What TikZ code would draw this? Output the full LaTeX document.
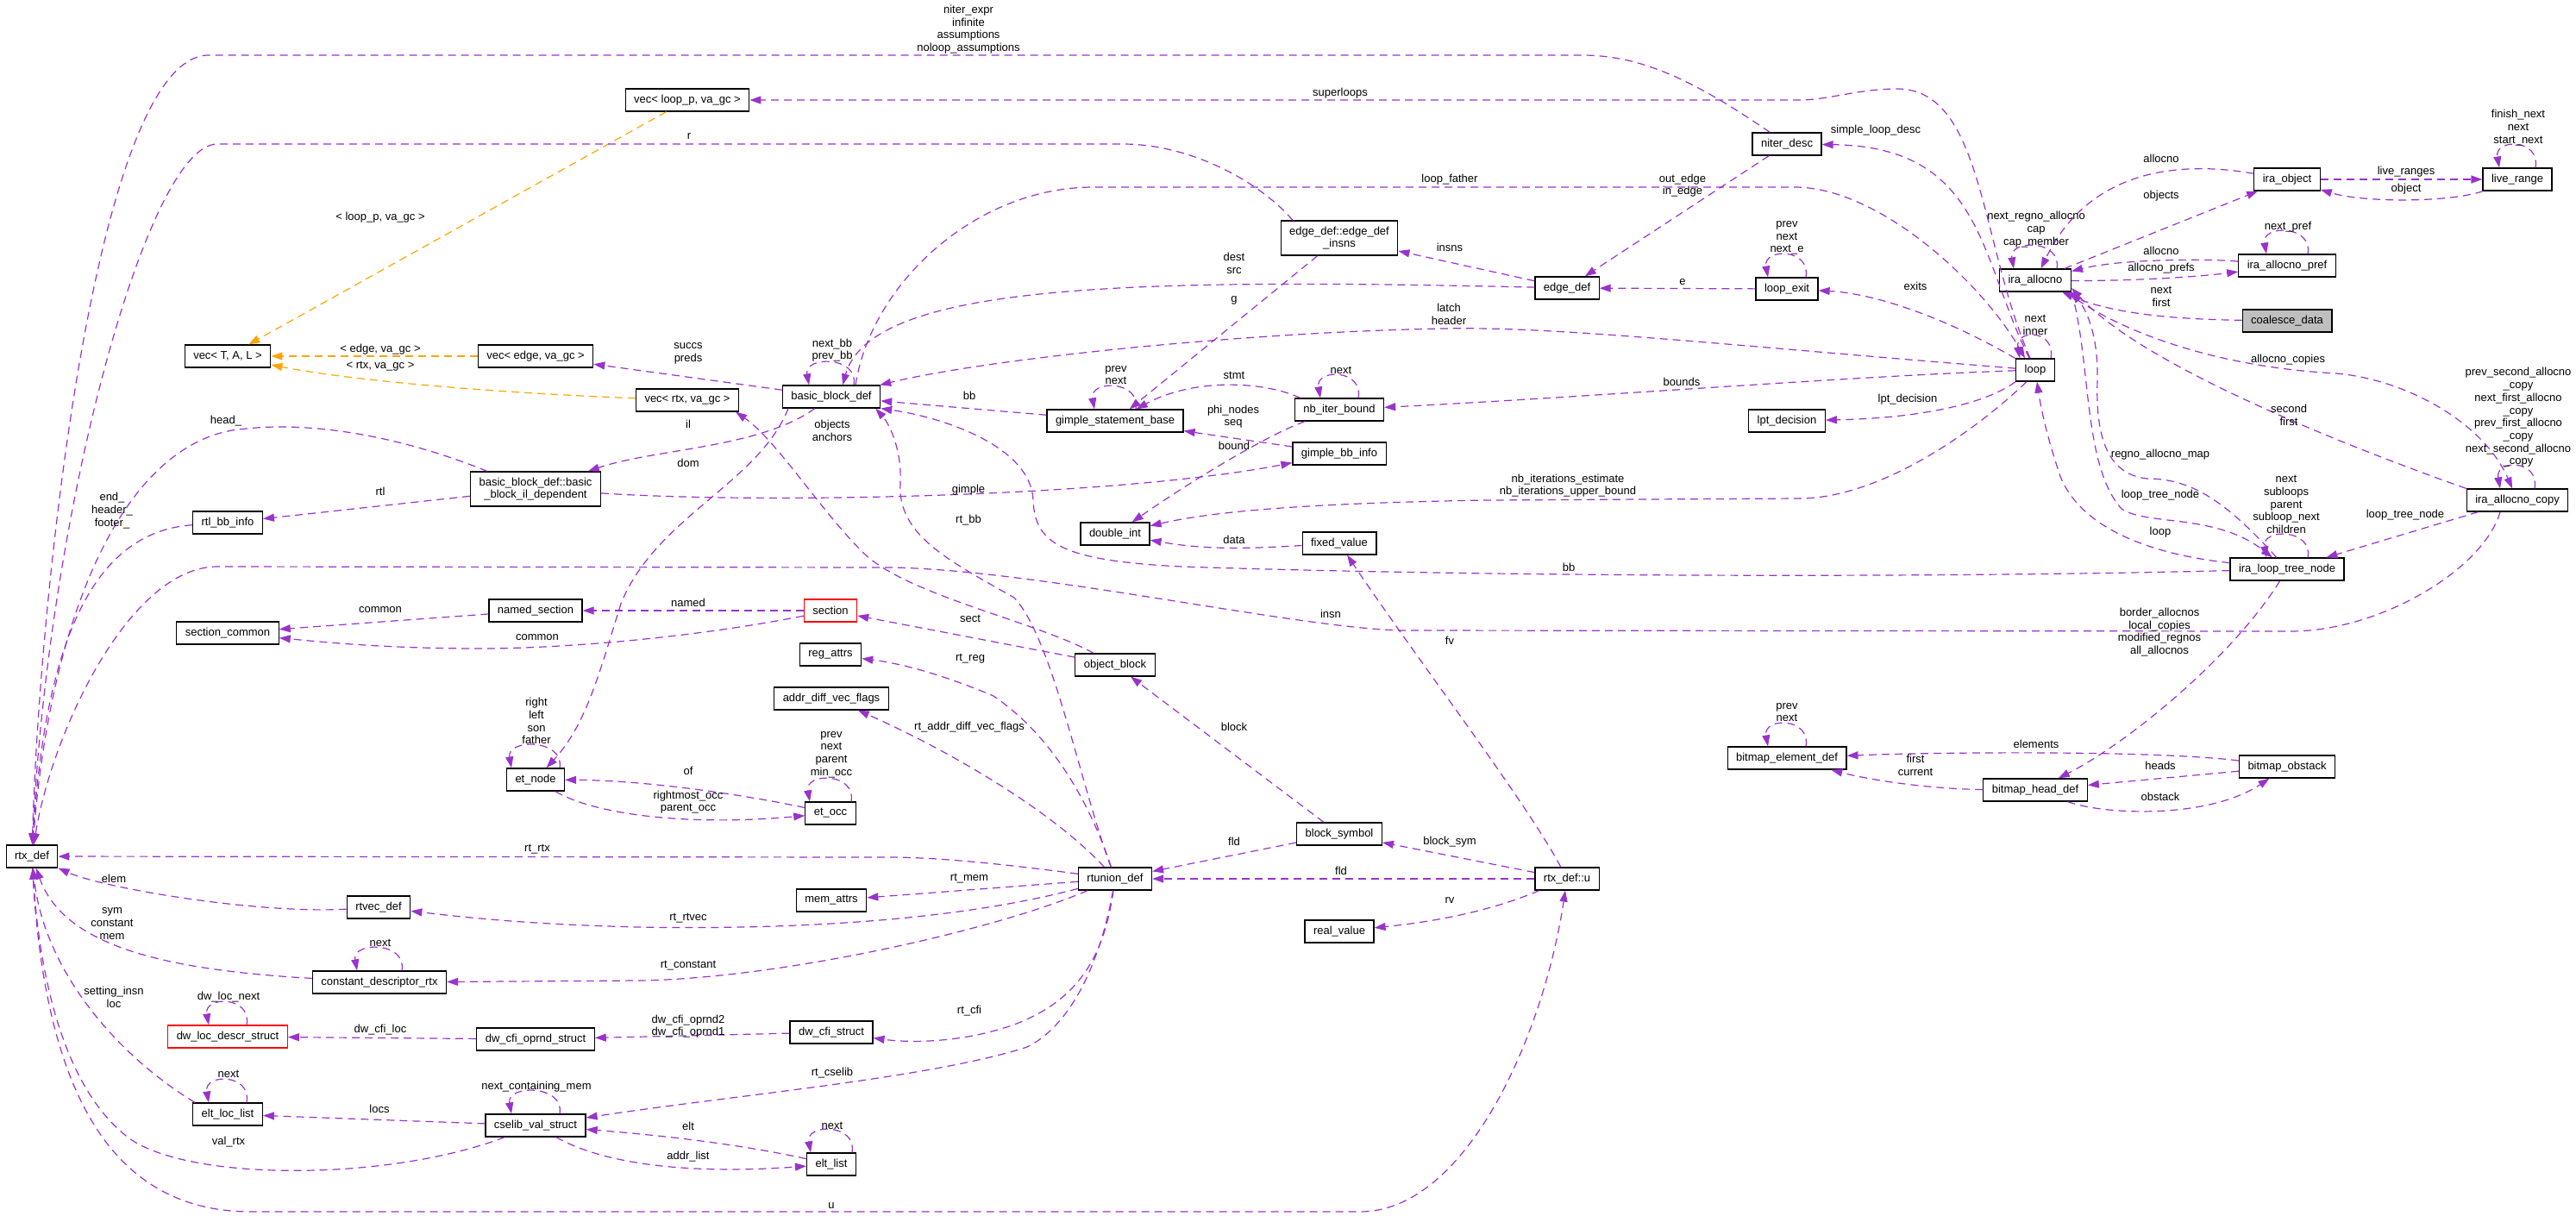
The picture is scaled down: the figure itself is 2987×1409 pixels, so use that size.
\documentclass[tikz,border=0pt]{standalone}
\usepackage{fontspec}
\setmainfont{Liberation Sans}
\usetikzlibrary{arrows.meta}
\definecolor{edgeP}{RGB}{154,50,205}
\definecolor{edgeO}{RGB}{255,165,0}
\definecolor{hiliteG}{RGB}{191,191,191}
\newcommand{\dxfont}{\fontsize{13}{14.7}\selectfont}
\newcommand{\selfloop}[2][22]{\draw[uses] ([xshift=#1pt]#2.north) .. controls +(6,-34) and +(-6,-34) .. ([xshift=-#1pt]#2.north);}

\begin{document}
\begin{tikzpicture}[x=1pt,y=-1pt,
  cls/.style={draw=black, line width=1.2pt, fill=white, font=\dxfont, align=center, minimum height=26pt, inner xsep=10pt, inner ysep=2pt},
  grey/.style={cls, fill=hiliteG},
  redcls/.style={cls, draw=red},
  uses/.style={draw=edgeP, line width=1.2pt, dash pattern=on 9pt off 6pt, -{Triangle[length=13pt,width=9pt]}},
  tmpl/.style={uses, draw=edgeO},
  lbl/.style={font=\dxfont, align=center, inner sep=0pt}]

\useasboundingbox (0,0) rectangle (2987,1409);

%%% CLASSES
\node[cls] (vecTAL) at (264,413) {vec< T, A, L >};
\node[cls] (vecEdge) at (621,413) {vec< edge, va\_gc >};
\node[cls] (vecLoop) at (797,116) {vec< loop\_p, va\_gc >};
\node[cls] (vecRtx) at (797,464) {vec< rtx, va\_gc >};
\node[cls] (bbDef) at (964,460) {basic\_block\_def};
\node[cls, minimum height=40pt] (bbIl) at (621,567) {basic\_block\_def::basic\\\_block\_il\_dependent};
\node[cls] (rtlBb) at (264,606) {rtl\_bb\_info};
\node[cls] (secCommon) at (264,734) {section\_common};
\node[cls] (namedSec) at (621,708) {named\_section};
\node[cls] (etNode) at (621,904) {et\_node};
\node[cls] (gimpleSB) at (1293,488) {gimple\_statement\_base};
\node[cls] (doubleInt) at (1293,619) {double\_int};
\node[redcls] (section) at (963,708) {section};
\node[cls] (regAttrs) at (963,759) {reg\_attrs};
\node[cls] (addrDiff) at (964,810) {addr\_diff\_vec\_flags};
\node[cls] (objBlock) at (1293,771) {object\_block};
\node[cls] (etOcc) at (963,943) {et\_occ};
\node[cls, minimum height=40pt] (edgeInsns) at (1553,276) {edge\_def::edge\_def\\\_insns};
\node[cls] (niterDesc) at (2072,167) {niter\_desc};
\node[cls] (edgeDef) at (1817,334) {edge\_def};
\node[cls] (loopExit) at (2072,335) {loop\_exit};
\node[cls] (nbIter) at (1553,475) {nb\_iter\_bound};
\node[cls] (lptDec) at (2072,488) {lpt\_decision};
\node[cls] (gimpleBb) at (1553,526) {gimple\_bb\_info};
\node[cls] (fixedVal) at (1553,630) {fixed\_value};
\node[cls] (bmElem) at (2072,879) {bitmap\_element\_def};
\node[cls] (iraObj) at (2652,208) {ira\_object};
\node[cls] (liveRange) at (2919,208) {live\_range};
\node[cls] (iraAllocno) at (2360,325) {ira\_allocno};
\node[cls] (iraPref) at (2652,308) {ira\_allocno\_pref};
\node[grey] (coalesce) at (2652,372) {coalesce\_data};
\node[cls] (loop) at (2360,429) {loop};
\node[cls] (iraCopy) at (2919,580) {ira\_allocno\_copy};
\node[cls] (iraLtn) at (2652,660) {ira\_loop\_tree\_node};
\node[cls] (bmHead) at (2360,916) {bitmap\_head\_def};
\node[cls] (bmObst) at (2652,889) {bitmap\_obstack};
\node[cls] (rtxDef) at (37,993) {rtx\_def};
\node[cls] (rtvecDef) at (439,1052) {rtvec\_def};
\node[cls] (constDesc) at (440,1139) {constant\_descriptor\_rtx};
\node[redcls] (dwLoc) at (264,1202) {dw\_loc\_descr\_struct};
\node[cls] (dwCfiOp) at (621,1205) {dw\_cfi\_oprnd\_struct};
\node[cls] (eltLoc) at (264,1292) {elt\_loc\_list};
\node[cls] (cselib) at (621,1305) {cselib\_val\_struct};
\node[cls] (rtunion) at (1293,1019) {rtunion\_def};
\node[cls] (memAttrs) at (964,1044) {mem\_attrs};
\node[cls] (dwCfi) at (964,1197) {dw\_cfi\_struct};
\node[cls] (eltList) at (964,1350) {elt\_list};
\node[cls] (blockSym) at (1553,967) {block\_symbol};
\node[cls] (rtxU) at (1817,1019) {rtx\_def::u};
\node[cls] (realVal) at (1553,1080) {real\_value};

%%% TEMPLATE INSTANCES
\draw[tmpl] (vecLoop) -- (vecTAL);
\draw[tmpl] (vecEdge) -- (vecTAL);
\draw[tmpl] (vecRtx) .. controls (560,455) and (400,440) .. (vecTAL);

%%% RTX_DEF, FROM ABOVE
\draw[uses] (niterDesc) .. controls (1960,90) and (1900,64) .. (1834,64) -- (242,64) .. controls (110,64) and (45,700) .. (rtxDef);
\draw[uses] ([xshift=-54pt]edgeInsns.north) .. controls (1460,210) and (1380,167) .. (1302,167) -- (252,167) .. controls (170,167) and (55,600) .. (rtxDef);
\draw[uses] ([xshift=-56pt]bbIl.north) .. controls (450,500) and (350,490) .. (286,497) .. controls (150,505) and (60,700) .. (rtxDef);
\draw[uses] (rtlBb) .. controls (130,615) and (55,700) .. (rtxDef);
\draw[uses] ([xshift=-20pt]iraCopy.south) .. controls (2880,660) and (2760,732) .. (2656,732) -- (1625,731) .. controls (1500,728) and (1200,660) .. (1031,658) -- (252,657) .. controls (150,657) and (60,850) .. (rtxDef);

%%% RTX_DEF, FROM BELOW
\draw[uses] (rtvecDef) .. controls (300,1060) and (120,1030) .. (rtxDef);
\draw[uses] (constDesc) .. controls (200,1125) and (75,1100) .. (rtxDef);
\draw[uses] ([xshift=3pt]eltLoc.north west) .. controls (130,1220) and (50,1120) .. (rtxDef);
\draw[uses] (cselib) .. controls (450,1370) and (220,1370) .. (150,1320) .. controls (70,1260) and (45,1120) .. (rtxDef);
\draw[uses] (rtunion) .. controls (1150,1000) and (1080,994) .. (1031,994) -- (rtxDef);
\draw[uses] (rtxDef) .. controls (50,1250) and (120,1405) .. (291,1405) -- (1577,1405) .. controls (1700,1405) and (1790,1200) .. (rtxU);

%%% BASIC BLOCKS
\draw[uses] ([xshift=28pt]bbDef.north) .. controls (1010,330) and (1130,217) .. (1268,217) -- (2081,217) .. controls (2180,217) and (2300,330) .. ([xshift=-12pt]loop.north);
\draw[uses] (edgeDef) .. controls (1300,322) and (1010,330) .. ([xshift=13pt]bbDef.north);
\draw[uses] (loop) .. controls (2000,400) and (1800,378) .. (1674,381) .. controls (1450,385) and (1150,415) .. (bbDef);
\draw[uses] (gimpleSB) -- (bbDef);
\draw[uses] (bbDef) -- (vecEdge);
\selfloop[26]{bbDef}
\draw[uses] (bbDef) .. controls (880,520) and (760,520) .. (bbIl);
\draw[uses] ([xshift=-50pt]bbDef.south) .. controls (880,560) and (760,600) .. (720,700) .. controls (695,780) and (680,840) .. (etNode);
\draw[uses] (bbIl) .. controls (900,585) and (1300,575) .. (gimpleBb);
\draw[uses] (bbIl) -- (rtlBb);
\draw[uses] (rtunion) .. controls (1250,900) and (1220,740) .. (1176,693) .. controls (1100,650) and (1040,620) .. (1044,560) .. controls (1046,520) and (1030,490) .. ([xshift=-6pt]bbDef.south east);
\draw[uses] (iraLtn) .. controls (2200,671) and (1700,668) .. (1370,657) .. controls (1230,650) and (1200,630) .. (1198,580) .. controls (1196,520) and (1100,485) .. (bbDef.south east);

%%% LOOPS
\draw[uses] (loop) .. controls (2295,280) and (2300,100) .. (2197,103) .. controls (2150,104) and (2120,116) .. (2086,116) -- (vecLoop);
\draw[uses] (loop) .. controls (2295,300) and (2300,170) .. (niterDesc);
\draw[uses] (niterDesc) -- (edgeDef);
\draw[uses] (edgeDef) -- (edgeInsns);
\draw[uses] (loopExit) -- (edgeDef);
\selfloop{loopExit}
\draw[uses] (loop) .. controls (2250,365) and (2170,340) .. (loopExit);
\draw[uses] (loop) .. controls (2150,436) and (1850,460) .. (nbIter);
\draw[uses] (loop.south west) .. controls (2300,470) and (2220,485) .. (lptDec);
\selfloop{nbIter}
\draw[uses] ([xshift=7pt]nbIter.north west) .. controls (1460,440) and (1380,440) .. (gimpleSB);
\selfloop[24]{gimpleSB}
\draw[uses] (edgeInsns) -- (gimpleSB);
\draw[uses] (gimpleBb) -- (gimpleSB);
\draw[uses] (nbIter) .. controls (1480,500) and (1400,545) .. (doubleInt);
\draw[uses] (fixedVal) .. controls (1450,636) and (1400,638) .. (doubleInt);
\draw[uses] ([xshift=-10pt]loop.south) .. controls (2290,500) and (2180,578) .. (2086,578) -- (1722,580) .. controls (1550,583) and (1420,590) .. (doubleInt);
\selfloop[18]{loop}

%%% RTUNION_DEF
\draw[uses] (rtunion) -- (memAttrs);
\draw[uses] (rtunion) .. controls (1100,1070) and (900,1078) .. (740,1075) .. controls (620,1072) and (550,1065) .. (rtvecDef);
\draw[uses] (rtunion) .. controls (1150,1080) and (900,1135) .. (740,1137) -- (constDesc);
\draw[uses] (rtunion) .. controls (1280,1110) and (1250,1160) .. (1176,1188) .. controls (1120,1208) and (1060,1210) .. (dwCfi);
\draw[uses] (rtunion) .. controls (1275,1120) and (1240,1190) .. (1191,1214) .. controls (1080,1250) and (850,1270) .. (cselib);
\draw[uses] (rtunion) .. controls (1220,940) and (1100,870) .. (addrDiff);
\draw[uses] (rtunion) .. controls (1270,950) and (1230,860) .. (1152,807) .. controls (1100,785) and (1050,770) .. (regAttrs);
\draw[uses] (objBlock) .. controls (1200,720) and (1050,690) .. (1000,640) .. controls (950,590) and (900,510) .. ([xshift=-4pt]vecRtx.south east);
\draw[uses] (objBlock) -- (section);
\draw[uses] (blockSym) -- (objBlock);
\draw[uses] (rtxU) -- (blockSym);
\draw[uses] (rtxU) -- (rtunion);
\draw[uses] (blockSym) -- (rtunion);
\draw[uses] (rtxU) .. controls (1720,1060) and (1650,1070) .. (realVal);
\draw[uses] (rtxU) .. controls (1770,930) and (1640,760) .. (fixedVal);

%%% SECTIONS, ET
\draw[uses] (namedSec) -- (secCommon);
\draw[uses] (section) .. controls (800,740) and (650,752) .. (557,752) .. controls (450,752) and (380,745) .. (secCommon);
\draw[uses] (section) -- (namedSec);
\selfloop[28]{etNode}
\draw[uses] (etOcc) .. controls (880,925) and (760,905) .. (etNode);
\draw[uses] (etNode) .. controls (690,945) and (800,958) .. (etOcc);
\selfloop[24]{etOcc}

%%% DWARF, CSELIB
\selfloop[26]{constDesc}
\selfloop{dwLoc}
\draw[uses] (dwCfiOp) -- (dwLoc);
\draw[uses] (dwCfi) -- (dwCfiOp);
\selfloop{eltLoc}
\draw[uses] (cselib) -- (eltLoc);
\selfloop[28]{cselib}
\draw[uses] (eltList) .. controls (850,1325) and (750,1315) .. (cselib);
\draw[uses] (cselib) .. controls (700,1350) and (800,1362) .. (eltList);
\selfloop[24]{eltList}

%%% IRA
\draw[uses] (iraObj) .. controls (2520,185) and (2420,200) .. (iraAllocno);
\draw[uses] (iraAllocno) -- (iraObj);
\draw[uses] (iraObj) -- (liveRange);
\draw[uses] (liveRange) .. controls (2840,235) and (2740,235) .. (iraObj);
\selfloop[21]{liveRange}
\draw[uses] (iraPref) .. controls (2560,300) and (2460,300) .. (iraAllocno);
\draw[uses] (iraAllocno) .. controls (2460,326) and (2540,322) .. (iraPref);
\selfloop[24]{iraPref}
\selfloop[25]{iraAllocno}
\draw[uses] (coalesce) .. controls (2500,370) and (2440,360) .. (iraAllocno);
\draw[uses] ([xshift=-6pt]iraAllocno.south east) .. controls (2450,380) and (2560,425) .. (2709,433) .. controls (2790,440) and (2880,490) .. (iraCopy);
\draw[uses] (iraCopy.north west) .. controls (2700,510) and (2480,420) .. (iraAllocno.-12);
\draw[uses] (iraAllocno.south east) .. controls (2425,420) and (2415,540) .. (2460,590) .. controls (2490,610) and (2570,595) .. (iraLtn);
\draw[uses] (iraLtn) .. controls (2580,580) and (2540,555) .. (2490,555) .. controls (2440,550) and (2430,500) .. (2432,440) .. controls (2433,390) and (2420,360) .. (iraAllocno.-18);
\selfloop[24]{iraLtn}
\draw[uses] (iraLtn) .. controls (2470,640) and (2400,600) .. (2385,540) .. controls (2372,500) and (2366,470) .. (loop);
\draw[uses] (iraCopy) -- (iraLtn);
\selfloop[20]{iraCopy}
\draw[uses] (iraLtn) .. controls (2590,760) and (2470,860) .. (bmHead);
\draw[uses] (bmHead) .. controls (2240,915) and (2170,905) .. (bmElem);
\draw[uses] (bmObst) .. controls (2500,870) and (2250,872) .. (bmElem);
\draw[uses] (bmObst) -- (bmHead);
\draw[uses] (bmHead) .. controls (2440,945) and (2560,950) .. (bmObst);
\selfloop{bmElem}

%%% MEMBER LABELS
\node[lbl] (lNiter) at (1123,34) {niter\_expr\\infinite\\assumptions\\noloop\_assumptions};
\node[lbl] (lTplLoop) at (441,252) {< loop\_p, va\_gc >};
\node[lbl] (lTplEdge) at (441,405) {< edge, va\_gc >};
\node[lbl] (lTplRtx) at (441,425) {< rtx, va\_gc >};
\node[lbl] (lSuperloops) at (1554,108) {superloops};
\node[lbl] (lR) at (799,158) {r};
\node[lbl] (lSimple) at (2175,151) {simple\_loop\_desc};
\node[lbl] (lLoopFather) at (1681,208) {loop\_father};
\node[lbl] (lOutEdge) at (1951,215) {out\_edge\\in\_edge};
\node[lbl] (lDest) at (1431,305) {dest\\src};
\node[lbl] (lInsns) at (1681,287) {insns};
\node[lbl] (lExitSelf) at (2072,276) {prev\\next\\next\_e};
\node[lbl] (lE) at (1951,327) {e};
\node[lbl] (lExits) at (2221,332) {exits};
\node[lbl] (lG) at (1431,348) {g};
\node[lbl] (lLatch) at (1680,364) {latch\\header};
\node[lbl] (lSuccs) at (798,410) {succs\\preds};
\node[lbl] (lNextBb) at (965,406) {next\_bb\\prev\_bb};
\node[lbl] (lStmtSelf) at (1294,435) {prev\\next};
\node[lbl] (lStmt) at (1431,435) {stmt};
\node[lbl] (lNbNext) at (1555,429) {next};
\node[lbl] (lBounds) at (1950,443) {bounds};
\node[lbl] (lBb) at (1124,459) {bb};
\node[lbl] (lLpt) at (2212,463) {lpt\_decision};
\node[lbl] (lPhi) at (1430,483) {phi\_nodes\\seq};
\node[lbl] (lIl) at (798,492) {il};
\node[lbl] (lObjects) at (965,499) {objects\\anchors};
\node[lbl] (lBound) at (1431,517) {bound};
\node[lbl] (lDom) at (798,537) {dom};
\node[lbl] (lNbIt) at (1818,563) {nb\_iterations\_estimate\\nb\_iterations\_upper\_bound};
\node[lbl] (lGimple) at (1123,568) {gimple};
\node[lbl] (lRtl) at (441,570) {rtl};
\node[lbl] (lHead) at (262,488) {head\_};
\node[lbl] (lEnd) at (130,592) {end\_\\header\_\\footer\_};
\node[lbl] (lRtBb) at (1123,603) {rt\_bb};
\node[lbl] (lData) at (1431,626) {data};
\node[lbl] (lBbLtn) at (1819,658) {bb};
\node[lbl] (lNamed) at (798,699) {named};
\node[lbl] (lCommonA) at (441,707) {common};
\node[lbl] (lCommonB) at (623,739) {common};
\node[lbl] (lSect) at (1125,717) {sect};
\node[lbl] (lInsn) at (1543,712) {insn};
\node[lbl] (lFv) at (1681,743) {fv};
\node[lbl] (lRtReg) at (1125,764) {rt\_reg};
\node[lbl] (lEtSelf) at (622,836) {right\\left\\son\\father};
\node[lbl] (lBlock) at (1431,843) {block};
\node[lbl] (lAddrDiff) at (1124,843) {rt\_addr\_diff\_vec\_flags};
\node[lbl] (lOccSelf) at (964,875) {prev\\next\\parent\\min\_occ};
\node[lbl] (lOf) at (798,894) {of};
\node[lbl] (lRightmost) at (798,930) {rightmost\_occ\\parent\_occ};
\node[lbl] (lFldA) at (1431,976) {fld};
\node[lbl] (lBlockSym) at (1681,976) {block\_sym};
\node[lbl] (lRtRtx) at (623,985) {rt\_rtx};
\node[lbl] (lFldB) at (1555,1010) {fld};
\node[lbl] (lRtMem) at (1124,1019) {rt\_mem};
\node[lbl] (lElem) at (132,1019) {elem};
\node[lbl] (lRv) at (1681,1044) {rv};
\node[lbl] (lRtRtvec) at (798,1065) {rt\_rtvec};
\node[lbl] (lSym) at (130,1071) {sym\\constant\\mem};
\node[lbl] (lConstNext) at (441,1093) {next};
\node[lbl] (lRtConst) at (798,1120) {rt\_constant};
\node[lbl] (lSetting) at (132,1156) {setting\_insn\\loc};
\node[lbl] (lDwNext) at (265,1156) {dw\_loc\_next};
\node[lbl] (lRtCfi) at (1124,1172) {rt\_cfi};
\node[lbl] (lOprnd) at (798,1190) {dw\_cfi\_oprnd2\\dw\_cfi\_oprnd1};
\node[lbl] (lCfiLoc) at (441,1194) {dw\_cfi\_loc};
\node[lbl] (lRtCselib) at (965,1244) {rt\_cselib};
\node[lbl] (lEltLocNext) at (265,1245) {next};
\node[lbl] (lNextMem) at (622,1260) {next\_containing\_mem};
\node[lbl] (lLocs) at (440,1286) {locs};
\node[lbl] (lElt) at (798,1306) {elt};
\node[lbl] (lEltNext) at (965,1305) {next};
\node[lbl] (lValRtx) at (265,1324) {val\_rtx};
\node[lbl] (lAddrList) at (798,1341) {addr\_list};
\node[lbl] (lU) at (964,1398) {u};
\node[lbl] (lLiveSelf) at (2920,148) {finish\_next\\next\\start\_next};
\node[lbl] (lAllocnoA) at (2506,184) {allocno};
\node[lbl] (lLiveRanges) at (2790,199) {live\_ranges};
\node[lbl] (lObject) at (2790,219) {object};
\node[lbl] (lObjectsIra) at (2506,227) {objects};
\node[lbl] (lAllocSelf) at (2361,266) {next\_regno\_allocno\\cap\\cap\_member};
\node[lbl] (lNextPref) at (2653,263) {next\_pref};
\node[lbl] (lAllocnoB) at (2506,291) {allocno};
\node[lbl] (lPrefs) at (2506,311) {allocno\_prefs};
\node[lbl] (lNextFirst) at (2506,344) {next\\first};
\node[lbl] (lLoopSelf) at (2360,377) {next\\inner};
\node[lbl] (lCopies) at (2653,417) {allocno\_copies};
\node[lbl] (lCopySelf) at (2920,484) {prev\_second\_allocno\\\_copy\\next\_first\_allocno\\\_copy\\prev\_first\_allocno\\\_copy\\next\_second\_allocno\\\_copy};
\node[lbl] (lSecond) at (2654,481) {second\\first};
\node[lbl] (lRegnoMap) at (2505,527) {regno\_allocno\_map};
\node[lbl] (lLtnA) at (2505,574) {loop\_tree\_node};
\node[lbl] (lLoop) at (2505,617) {loop};
\node[lbl] (lLtnSelf) at (2651,585) {next\\subloops\\parent\\subloop\_next\\children};
\node[lbl] (lLtnB) at (2789,597) {loop\_tree\_node};
\node[lbl] (lBorder) at (2504,733) {border\_allocnos\\local\_copies\\modified\_regnos\\all\_allocnos};
\node[lbl] (lElemSelf) at (2072,826) {prev\\next};
\node[lbl] (lElements) at (2361,863) {elements};
\node[lbl] (lFirstCur) at (2221,887) {first\\current};
\node[lbl] (lHeads) at (2505,888) {heads};
\node[lbl] (lObstack) at (2505,924) {obstack};

\end{tikzpicture}
\end{document}
